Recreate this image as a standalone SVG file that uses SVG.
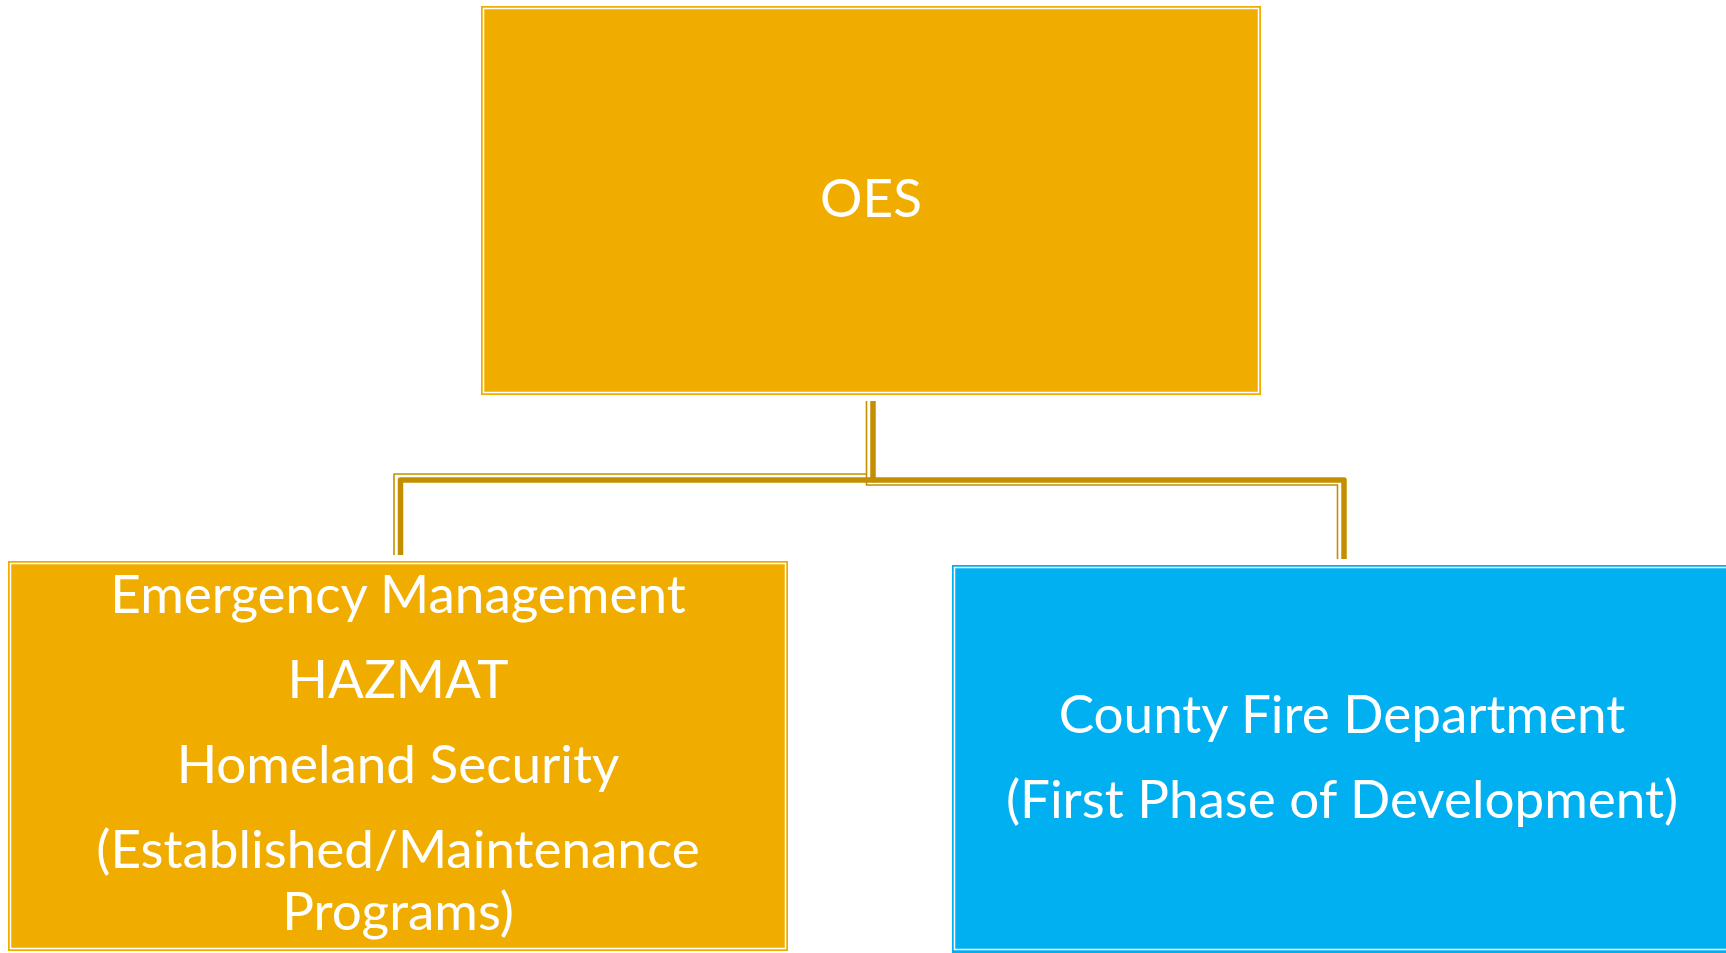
<svg xmlns="http://www.w3.org/2000/svg" width="1726" height="953" viewBox="0 0 1726 953">
  <style>
    .gold { fill: #F0AD00; }
    .blue { fill: #00B0F0; }
    .inner { fill: none; stroke: #FFFFFF; stroke-width: 1.5; }
    .label { font-family: Lato, "Liberation Sans", sans-serif; font-size: 53px; fill: #FFFFFF; text-anchor: middle; }
    .thick { fill: none; stroke: #C38E00; stroke-width: 5.5; stroke-linejoin: round; }
    .thin { fill: none; stroke: #C38E00; stroke-width: 1.6; stroke-linejoin: round; }
  </style>

  <!-- connectors: double (thick + thin) elbow lines -->
  <g id="connectors">
    <path class="thick" d="M873,401 V480 H400.5 V555"/>
    <path class="thin" d="M866.5,401 V474 H394 V555"/>
    <path class="thick" d="M873,480 H1344 V559"/>
    <path class="thin" d="M866.5,474 V485 H1337.5 V559"/>
  </g>

  <g id="oes">
    <rect class="gold" x="481" y="6" width="780" height="389"/>
    <rect class="inner" x="483.5" y="8.5" width="775" height="384"/>
    <text class="label" x="871" y="217">OES</text>
  </g>

  <g id="emergency-management">
    <rect class="gold" x="8" y="561" width="780" height="390"/>
    <rect class="inner" x="10.5" y="563.5" width="775" height="385"/>
    <text class="label" x="398" y="613">Emergency Management</text>
    <text class="label" x="398" y="698">HAZMAT</text>
    <text class="label" x="398" y="783">Homeland Security</text>
    <text class="label" x="398" y="868">(Established/Maintenance</text>
    <text class="label" x="398" y="930">Programs)</text>
  </g>

  <g id="county-fire">
    <rect class="blue" x="952" y="565" width="780" height="388"/>
    <rect class="inner" x="954.5" y="567.5" width="775" height="382"/>
    <text class="label" x="1342" y="733">County Fire Department</text>
    <text class="label" x="1342" y="818">(First Phase of Development)</text>
  </g>
</svg>
